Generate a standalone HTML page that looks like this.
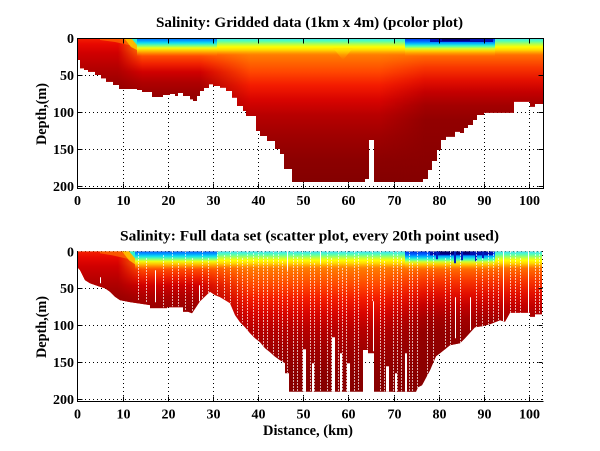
<!DOCTYPE html>
<html><head><meta charset="utf-8"><style>
html,body{margin:0;padding:0;background:#fff;}
svg{display:block;}
text{font-family:"Liberation Serif","Times New Roman",serif;font-weight:bold;fill:#000;}
</style></head><body>
<svg width="600" height="451" viewBox="0 0 600 451" xmlns="http://www.w3.org/2000/svg">
<defs>
 <linearGradient id="gA" gradientUnits="userSpaceOnUse" x1="0" y1="38" x2="0" y2="188">
  <stop offset="0" stop-color="#f42000"/><stop offset=".04" stop-color="#e80800"/>
  <stop offset=".1" stop-color="#d00000"/><stop offset=".2" stop-color="#b40000"/>
  <stop offset=".3" stop-color="#9c0000"/><stop offset=".4" stop-color="#8c0000"/>
  <stop offset="1" stop-color="#800000"/>
 </linearGradient>
 <linearGradient id="gB" gradientUnits="userSpaceOnUse" x1="0" y1="38" x2="0" y2="188">
  <stop offset="0" stop-color="#ff9000"/><stop offset=".08" stop-color="#ff7800"/>
  <stop offset=".12" stop-color="#ff4c00"/><stop offset=".173" stop-color="#f02000"/>
  <stop offset=".227" stop-color="#d00000"/><stop offset=".293" stop-color="#b00000"/>
  <stop offset=".38" stop-color="#980000"/><stop offset=".48" stop-color="#8c0000"/>
  <stop offset="1" stop-color="#800000"/>
 </linearGradient>
 <linearGradient id="gC" gradientUnits="userSpaceOnUse" x1="0" y1="38" x2="0" y2="188">
  <stop offset="0" stop-color="#ffa800"/><stop offset=".08" stop-color="#ff8c00"/>
  <stop offset=".147" stop-color="#ff6c00"/><stop offset=".227" stop-color="#ff4600"/>
  <stop offset=".313" stop-color="#f41c00"/><stop offset=".413" stop-color="#d80400"/>
  <stop offset=".513" stop-color="#b80000"/><stop offset=".647" stop-color="#a00000"/>
  <stop offset=".813" stop-color="#8c0000"/><stop offset="1" stop-color="#820000"/>
 </linearGradient>
 <linearGradient id="gD" gradientUnits="userSpaceOnUse" x1="0" y1="38" x2="0" y2="188">
  <stop offset="0" stop-color="#ffa800"/><stop offset=".08" stop-color="#ff8800"/>
  <stop offset=".133" stop-color="#ff6000"/><stop offset=".2" stop-color="#f83400"/>
  <stop offset=".28" stop-color="#e41000"/><stop offset=".36" stop-color="#c40000"/>
  <stop offset=".447" stop-color="#a40000"/><stop offset=".547" stop-color="#920000"/>
  <stop offset="1" stop-color="#840000"/>
 </linearGradient>
 <linearGradient id="sB" gradientUnits="userSpaceOnUse" x1="0" y1="38" x2="0" y2="56">
  <stop offset="0" stop-color="#1060ff"/><stop offset=".139" stop-color="#0098ff"/>
  <stop offset=".278" stop-color="#10e0f0"/><stop offset=".417" stop-color="#70ff90"/>
  <stop offset=".556" stop-color="#f0ff10"/><stop offset=".722" stop-color="#ffc000"/>
  <stop offset="1" stop-color="#ff9000" stop-opacity="0"/>
 </linearGradient>
 <linearGradient id="sC" gradientUnits="userSpaceOnUse" x1="0" y1="38" x2="0" y2="55">
  <stop offset="0" stop-color="#40d8ff"/><stop offset=".176" stop-color="#50ffb8"/>
  <stop offset=".353" stop-color="#b0ff50"/><stop offset=".529" stop-color="#ffff00"/>
  <stop offset=".706" stop-color="#ffd800"/><stop offset="1" stop-color="#ffb000" stop-opacity="0"/>
 </linearGradient>
 <linearGradient id="sD" gradientUnits="userSpaceOnUse" x1="0" y1="38" x2="0" y2="56">
  <stop offset="0" stop-color="#0030e0"/><stop offset=".167" stop-color="#0060ff"/>
  <stop offset=".306" stop-color="#00b8ff"/><stop offset=".444" stop-color="#40ffc0"/>
  <stop offset=".583" stop-color="#d0ff30"/><stop offset=".722" stop-color="#ffd000"/>
  <stop offset="1" stop-color="#ffa000" stop-opacity="0"/>
 </linearGradient>
 <linearGradient id="dip" gradientUnits="userSpaceOnUse" x1="0" y1="48" x2="0" y2="60">
  <stop offset="0" stop-color="#ffe800" stop-opacity=".9"/><stop offset="1" stop-color="#ffb000" stop-opacity="0"/>
 </linearGradient>
 <linearGradient id="hA" gradientUnits="userSpaceOnUse" x1="118" y1="0" x2="142" y2="0">
  <stop offset="0" stop-color="#fff"/><stop offset="1" stop-color="#000"/>
 </linearGradient>
 <linearGradient id="hB" gradientUnits="userSpaceOnUse" x1="200" y1="0" x2="250" y2="0">
  <stop offset="0" stop-color="#fff"/><stop offset="1" stop-color="#000"/>
 </linearGradient>
 <linearGradient id="hD" gradientUnits="userSpaceOnUse" x1="380" y1="0" x2="425" y2="0">
  <stop offset="0" stop-color="#000"/><stop offset="1" stop-color="#fff"/>
 </linearGradient>
 <mask id="mA" maskUnits="userSpaceOnUse" x="0" y="0" width="600" height="451"><rect x="0" y="0" width="600" height="451" fill="url(#hA)"/></mask>
 <mask id="mB" maskUnits="userSpaceOnUse" x="0" y="0" width="600" height="451"><rect x="0" y="0" width="600" height="451" fill="url(#hB)"/></mask>
 <mask id="mD" maskUnits="userSpaceOnUse" x="0" y="0" width="600" height="451"><rect x="0" y="0" width="600" height="451" fill="url(#hD)"/></mask>
 <clipPath id="c1">
  <polygon points="77,38 543,38 543,104 535,104 535,106.7 530,106.7 530,101.7 514,101.7 514,112.7 484,112.7 484,115 477,115 477,120 473,120 473,125 468,125 468,128 464,128 464,133 460,133 460,131.7 455,131.7 455,136.7 446,136.7 446,140 441,140 441,150 437,150 437,161 432,161 432,170 428,170 428,179 423,179 423,182 374,182 374,140 369,140 369,179 365,179 365,182 292,182 292,169 284,169 284,154 280,154 280,149 275,149 275,141 267,141 267,136 260,136 260,131 256,131 256,116 246,116 246,111 243,111 243,106 237,106 237,97.7 232,97.7 232,91 226,91 226,87.7 220,87.7 220,86 213,86 213,84.3 209,84.3 209,88 204,88 204,91 200,91 200,96 197,96 197,101 193,101 193,99.3 190,99.3 190,96 183,96 183,93 178,93 178,96 175,96 175,94 170,94 170,95 163,95 163,97 152,97 152,92 142,92 142,90 137,90 137,89 119,89 119,85 113,85 113,81.7 106,81.7 106,78.3 101,78.3 101,75 95,75 95,71.7 88,71.7 88,70 84,70 84,68.3 80,68.3 80,60 77,60"/>
 </clipPath>
 <clipPath id="c2">
  <polygon points="77,38 542,38 542,101 535,101 535,103.5 530,103.5 530,99.5 510,99.5 505,108.5 500,107 490,111 482,113 475,114 465,125 460,130 450,132 440,140 436,143 430,157 422,172 418,174 416,178.5 374,178.5 374,140 368,140 368,136.7 363,136.7 363,178.5 289,178.5 289,160 285,160 285,150 280,147 275,143.5 270,139 265,135 260,129 255,125 250,120 245,114 240,109 235,101.8 230,90 225,86.8 220,83.8 215,81.8 210,78.5 200,88 192,100 188,98.5 183,98.5 183,94 167,94 167,94.8 150,94.8 150,91.8 130,88.8 120,86.8 115,83.5 110,78.5 105,75 100,73.5 90,70 85,66.8 80,56.8 77,53.5"/>
 </clipPath>
 <g id="field">
  <rect x="77" y="38" width="466" height="151" fill="url(#gC)"/>
  <rect x="77" y="38" width="180" height="151" fill="url(#gB)" mask="url(#mB)"/>
  <rect x="77" y="38" width="70" height="151" fill="url(#gA)" mask="url(#mA)"/>
  <rect x="375" y="38" width="168" height="151" fill="url(#gD)" mask="url(#mD)"/>
 </g>
</defs>
<rect width="600" height="451" fill="#fff"/>

<!-- ============ TOP PLOT ============ -->
<g stroke="#000" stroke-width="1" stroke-dasharray="1 3" fill="none">
 <path d="M123.5 38V188M168.5 38V188M213.5 38V188M258.5 38V188M303.5 38V188M348.5 38V188M394.5 38V188M439.5 38V188M484.5 38V188M529.5 38V188"/>
 <path d="M77 75.5H543M77 112.5H543M77 149.5H543M77 186.5H543"/>
</g>
<g clip-path="url(#c1)">
 <use href="#field"/>
 <polygon points="100,38 133,38 133,46 115,42 100,40" fill="#ff7000" opacity=".7"/>
 <polygon points="124,38 137,38 137,50 131,47" fill="#ffd000" opacity=".8"/>
 <polygon points="131,38 137,38 137,45" fill="#30f0d0"/>
 <rect x="137" y="38" width="80" height="18" fill="url(#sB)"/>
 <rect x="217" y="38" width="188" height="17" fill="url(#sC)"/>
 <rect x="405" y="38" width="90" height="18" fill="url(#sD)"/>
 <rect x="495" y="38" width="48" height="17" fill="url(#sC)"/>
 <rect x="430" y="38" width="63" height="4" fill="#0010b0"/>
 <rect x="442" y="38" width="28" height="3" fill="#00007a"/>
 <polygon points="333,48 353,48 343,60" fill="url(#dip)"/>
</g>
<!-- axes top -->
<g stroke="#000" stroke-width="1" fill="none">
 <rect x="77.5" y="38.5" width="466" height="150"/>
 <path d="M123.5 188.5v-5M168.5 188.5v-5M213.5 188.5v-5M258.5 188.5v-5M303.5 188.5v-5M348.5 188.5v-5M394.5 188.5v-5M439.5 188.5v-5M484.5 188.5v-5M529.5 188.5v-5"/>
 <path d="M123.5 38.5v5M168.5 38.5v5M213.5 38.5v5M258.5 38.5v5M303.5 38.5v5M348.5 38.5v5M394.5 38.5v5M439.5 38.5v5M484.5 38.5v5M529.5 38.5v5"/>
 <path d="M77.5 75.5h5M77.5 112.5h5M77.5 149.5h5M77.5 186.5h5M543.5 75.5h-5M543.5 112.5h-5M543.5 149.5h-5M543.5 186.5h-5"/>
</g>
<text x="309.5" y="27" text-anchor="middle" font-size="15" textLength="307" lengthAdjust="spacingAndGlyphs">Salinity: Gridded data (1km x 4m) (pcolor plot)</text>
<g font-size="14" text-anchor="end">
 <text x="74" y="43">0</text><text x="74" y="80">50</text><text x="74" y="117">100</text><text x="74" y="154">150</text><text x="74" y="191">200</text>
</g>
<g font-size="14" text-anchor="middle">
 <text x="77.5" y="205">0</text><text x="123.5" y="205">10</text><text x="168.5" y="205">20</text><text x="213.5" y="205">30</text><text x="258.5" y="205">40</text><text x="303.5" y="205">50</text><text x="348.5" y="205">60</text><text x="394.5" y="205">70</text><text x="439.5" y="205">80</text><text x="484.5" y="205">90</text><text x="529.5" y="205">100</text>
</g>
<text transform="translate(46,114) rotate(-90)" text-anchor="middle" font-size="14.5" textLength="62" lengthAdjust="spacingAndGlyphs">Depth,(m)</text>

<!-- ============ BOTTOM PLOT ============ -->
<g stroke="#000" stroke-width="1" stroke-dasharray="1 3" fill="none">
 <path d="M123.5 251V401M168.5 251V401M213.5 251V401M258.5 251V401M303.5 251V401M348.5 251V401M394.5 251V401M439.5 251V401M484.5 251V401M529.5 251V401"/>
 <path d="M77 288.5H543M77 325.5H543M77 362.5H543M77 399.5H543M77 251.5H543M542.5 251V401"/>
</g>
<g transform="translate(0,213.3)">
 <g clip-path="url(#c2)">
  <use href="#field"/>
  <polygon points="100,38 130,38 130,46 112,42 100,40" fill="#ff7000" opacity=".7"/>
  <polygon points="122,38 135,38 135,51 129,47" fill="#ffd000" opacity=".8"/>
  <polygon points="129,38 135,38 135,45" fill="#30f0d0"/>
  <rect x="135" y="38" width="82" height="19" fill="url(#sB)"/>
  <rect x="217" y="38" width="188" height="18" fill="url(#sC)"/>
  <rect x="405" y="38" width="90" height="19" fill="url(#sD)"/>
  <rect x="495" y="38" width="48" height="18" fill="url(#sC)"/>
  <rect x="430" y="38" width="63" height="4" fill="#0010b0"/>
  <rect x="440" y="38" width="30" height="3" fill="#00007a"/>
  <path d="M455 38v12M462 38v9M437 38v8M476 38v10M483 38v7" stroke="#0020c0" stroke-width="2"/>
  <g stroke="#fff" stroke-width="1" fill="none" stroke-dasharray="1.5 1.5" opacity=".9">
   <path d="M138.5 40V88M146.5 45V90M163.5 42V94M172.5 38V93M178.5 50V93M185.5 38V98M192.5 45V99M202.5 38V85M208.5 45V80M217.5 38V82M224.5 42V86M230.5 38V90M237.5 38V102M242.5 45V109M247.5 38V117M253.5 40V124M258.5 38V127M263.5 38V133M267.5 44V137M273.5 38V141M278.5 38V146M282.5 48V149M287.5 57V160M293.5 38V178M297.5 44V178M302.5 38V178M310.5 38V178M314.5 50V178M320.5 50V178M327.5 38V178M331.5 45V178M338.5 38V178M342.5 55V178M346.5 38V178M354.5 38V178M358.5 40V178M367.5 42V136M372.5 38V88M380.5 38V178M384.5 48V178M393.5 38V178M397.5 38V178M401.5 45V178M409.5 38V178M412.5 50V178M417.5 38V178M427.5 38V165M433.5 38V150M445.5 45V134M450.5 38V132M460.5 38V130M476.5 38V114M482.5 45V113M488.5 38V111M493.5 38V109M498.5 45V107M510.5 38V100M515.5 38V100M520.5 45V100M535.5 38V103M539.5 38V101"/>
  </g>
  <g stroke="#fff" stroke-width="1" fill="none">
   <path d="M155.5 57V89M199.5 72V88M287.5 38V57M320.5 38V50M373.5 88V138M455.5 84V125M470.5 84V117M503.5 38V108M528.5 38V103M100.5 64V70"/>
  </g>
  <g fill="#fff">
   <rect x="303" y="136" width="3" height="43"/><rect x="332" y="124" width="3" height="55"/>
   <rect x="347" y="150" width="3" height="29"/><rect x="386" y="153" width="3" height="26"/>
   <rect x="395" y="160" width="2" height="19"/><rect x="405" y="140" width="2" height="39"/>
   <rect x="312" y="150" width="2" height="29"/><rect x="340" y="140" width="2" height="39"/>
  </g>
 </g>
</g>
<!-- axes bottom -->
<g stroke="#000" stroke-width="1" fill="none">
 <path d="M77.5 251V402M77 401.5H543.5"/>
 <path d="M123.5 401.5v-5M168.5 401.5v-5M213.5 401.5v-5M258.5 401.5v-5M303.5 401.5v-5M348.5 401.5v-5M394.5 401.5v-5M439.5 401.5v-5M484.5 401.5v-5M529.5 401.5v-5"/>
 <path d="M77.5 288.5h5M77.5 325.5h5M77.5 362.5h5M77.5 399.5h5M542.5 288.5h-4M542.5 325.5h-4M542.5 362.5h-4"/>
</g>
<text x="309.5" y="240.5" text-anchor="middle" font-size="15" textLength="379" lengthAdjust="spacingAndGlyphs">Salinity: Full data set (scatter plot, every 20th point used)</text>
<g font-size="14" text-anchor="end">
 <text x="74" y="256.5">0</text><text x="74" y="293">50</text><text x="74" y="330">100</text><text x="74" y="367">150</text><text x="74" y="404">200</text>
</g>
<g font-size="14" text-anchor="middle">
 <text x="77.5" y="418.5">0</text><text x="123.5" y="418.5">10</text><text x="168.5" y="418.5">20</text><text x="213.5" y="418.5">30</text><text x="258.5" y="418.5">40</text><text x="303.5" y="418.5">50</text><text x="348.5" y="418.5">60</text><text x="394.5" y="418.5">70</text><text x="439.5" y="418.5">80</text><text x="484.5" y="418.5">90</text><text x="529.5" y="418.5">100</text>
</g>
<text transform="translate(46,327) rotate(-90)" text-anchor="middle" font-size="14.5" textLength="62" lengthAdjust="spacingAndGlyphs">Depth,(m)</text>
<text x="308" y="435" text-anchor="middle" font-size="15" textLength="90" lengthAdjust="spacingAndGlyphs">Distance, (km)</text>
</svg>
</body></html>
